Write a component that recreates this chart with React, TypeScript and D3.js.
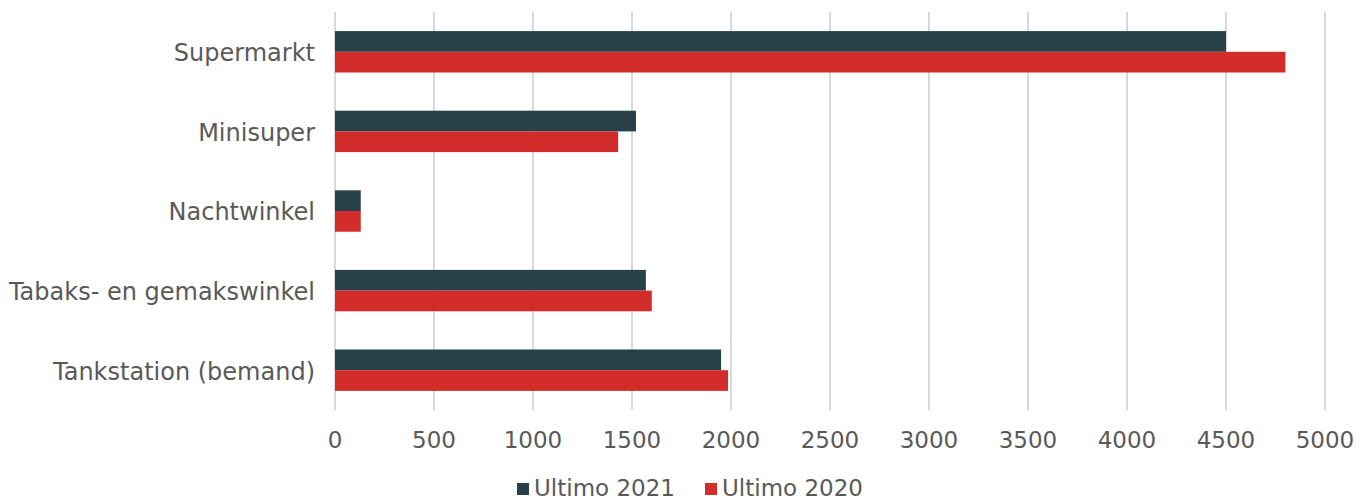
import React, { useEffect, useRef } from 'react';
import * as d3 from 'd3';

const categories = ['Supermarkt', 'Minisuper', 'Nachtwinkel', 'Tabaks- en gemakswinkel', 'Tankstation (bemand)'];
const ultimo2021 = [4500, 1520, 130, 1570, 1950];
const ultimo2020 = [4800, 1430, 130, 1600, 1985];
const xTicks = [0, 500, 1000, 1500, 2000, 2500, 3000, 3500, 4000, 4500, 5000];
const seriesNames = ['Ultimo 2021', 'Ultimo 2020'];
const seriesColors = ['#27404a', '#d22d2a'];

const W = 1371;
const H = 501;
const FONT = "'DejaVu Sans', sans-serif";
const TEXT_COLOR = '#595959';

const App = () => {
  const ref = useRef<SVGSVGElement>(null);

  useEffect(() => {
    const svg = d3.select(ref.current);
    svg.selectAll('*').remove();

    const margin = { top: 12, right: 46, bottom: 91, left: 335 };

    const x = d3.scaleLinear()
      .domain([0, 5000])
      .range([margin.left, W - margin.right]);

    const y = d3.scaleBand()
      .domain(categories)
      .range([margin.top, H - margin.bottom])
      .paddingInner(0.48)
      .paddingOuter(0.24);

    const sub = d3.scaleBand()
      .domain(seriesNames)
      .range([0, y.bandwidth()]);

    // gridlines
    svg.append('g')
      .selectAll('line')
      .data(xTicks)
      .enter().append('line')
      .attr('x1', d => x(d))
      .attr('x2', d => x(d))
      .attr('y1', margin.top)
      .attr('y2', H - margin.bottom)
      .attr('stroke', '#d9d9d9')
      .attr('stroke-width', 2);

    // tick labels
    svg.append('g')
      .selectAll('text')
      .data(xTicks)
      .enter().append('text')
      .attr('x', d => x(d))
      .attr('y', 448)
      .attr('text-anchor', 'middle')
      .attr('font-family', FONT)
      .attr('font-size', 23)
      .attr('fill', TEXT_COLOR)
      .text(d => d);

    // category labels
    svg.append('g')
      .selectAll('text')
      .data(categories)
      .enter().append('text')
      .attr('x', 315)
      .attr('y', d => (y(d) as number) + y.bandwidth() / 2 + 1)
      .attr('dy', '0.35em')
      .attr('text-anchor', 'end')
      .attr('font-family', FONT)
      .attr('font-size', 24)
      .attr('fill', TEXT_COLOR)
      .text(d => d);

    // bars
    const series = [ultimo2021, ultimo2020];
    series.forEach((vals, si) => {
      svg.append('g')
        .selectAll('rect')
        .data(categories)
        .enter().append('rect')
        .attr('x', x(0))
        .attr('y', d => (y(d) as number) + (sub(seriesNames[si]) as number))
        .attr('width', (d, i) => x(vals[i]) - x(0))
        .attr('height', sub.bandwidth())
        .attr('fill', seriesColors[si]);
    });

    // legend
    const legendX = [517, 705];
    const lg = svg.append('g');
    seriesNames.forEach((name, i) => {
      lg.append('rect')
        .attr('x', legendX[i])
        .attr('y', 483)
        .attr('width', 12)
        .attr('height', 12)
        .attr('fill', seriesColors[i]);
      lg.append('text')
        .attr('x', legendX[i] + 17)
        .attr('y', 496)
        .attr('font-family', FONT)
        .attr('font-size', 23)
        .attr('fill', TEXT_COLOR)
        .text(name);
    });
  }, []);

  return (
    <svg ref={ref} width={W} height={H} style={{ position: 'absolute', left: 0, top: 0, background: '#fff' }} />
  );
};

export default App;
